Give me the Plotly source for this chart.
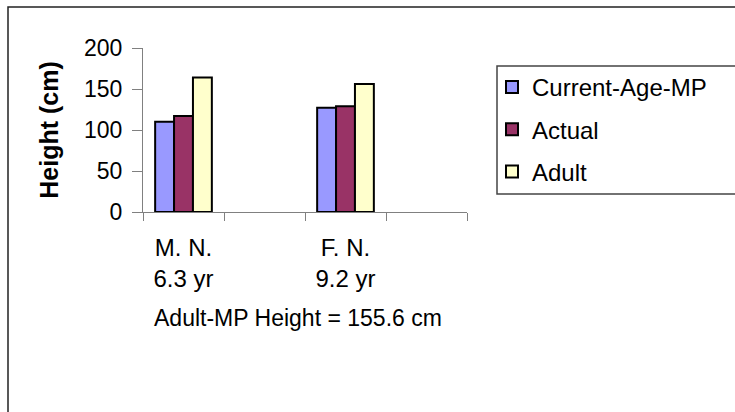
import plotly.graph_objects as go

# Patients (with age) and the two empty slots that pad the category axis
categories = ["M. N.<br>6.3 yr", " ", "F. N.<br>9.2 yr", "  "]

# Heights in cm for each series (None = no bar in that slot)
current_age_mp = [110, None, 127, None]
actual = [117, None, 129, None]
adult = [164, None, 156, None]

series_names = ["Current-Age-MP", "Actual", "Adult"]
series_values = [current_age_mp, actual, adult]
series_colors = ["#9999FF", "#993366", "#FFFFCC"]

y_ticks = [0, 50, 100, 150, 200]
note_text = "Adult-MP Height = 155.6 cm"

W, H = 735, 412
L, R, T, B = 143, 268, 48, 200
PW, PH = W - L - R, H - T - B


def px_x(px):
    return (px - L) / PW


def px_y(py):
    return (H - B - py) / PH


FONT = "Arial, Liberation Sans, sans-serif"

fig = go.Figure()
for i, (name, vals, col) in enumerate(zip(series_names, series_values, series_colors)):
    fig.add_trace(go.Bar(
        x=categories, y=vals, name=name,
        marker=dict(color=col, line=dict(color="#000000", width=2)),
        legendgroup=f"g{i}",
    ))

fig.update_layout(
    width=W, height=H,
    margin=dict(l=L, r=R, t=T, b=B, autoexpand=False),
    paper_bgcolor="white", plot_bgcolor="white",
    barmode="group", bargap=0.3, bargroupgap=0,
    font=dict(family=FONT, color="#000000", size=22),
    showlegend=True,
    legend=dict(
        xref="container", yref="container",
        x=492 / W, y=1 - 65 / H, xanchor="left", yanchor="top",
        bgcolor="rgba(0,0,0,0)", borderwidth=0,
        font=dict(family=FONT, size=24, color="#000000"),
        traceorder="grouped", tracegroupgap=8,
    ),
    xaxis=dict(
        type="category", categoryorder="array", categoryarray=categories,
        range=[-0.5, 3.5], tickson="boundaries",
        showline=True, linecolor="#808080", linewidth=1,
        ticks="outside", ticklen=8, tickcolor="#808080", tickwidth=1,
        showgrid=False, zeroline=False,
        tickfont=dict(family=FONT, size=24),
        ticklabelstandoff=14,
    ),
    yaxis=dict(
        range=[0, 200], tickvals=y_ticks,
        showline=True, linecolor="#808080", linewidth=1,
        ticks="outside", ticklen=10, tickcolor="#808080", tickwidth=1,
        showgrid=False, zeroline=False,
        tickfont=dict(family=FONT, size=23),
        ticklabelstandoff=5,
        title=dict(text="<b>Height (cm)</b>", font=dict(family=FONT, size=25), standoff=18),
    ),
    shapes=[
        # chart frame
        dict(type="rect", xref="paper", yref="paper",
             x0=px_x(8), x1=px_x(W + 20), y0=px_y(7), y1=px_y(H + 20),
             line=dict(color="#222222", width=1.5), fillcolor="rgba(0,0,0,0)", layer="below"),
        # legend frame
        dict(type="rect", xref="paper", yref="paper",
             x0=px_x(497), x1=px_x(W + 20), y0=px_y(66), y1=px_y(194),
             line=dict(color="#444444", width=1.5), fillcolor="rgba(0,0,0,0)", layer="below"),
    ],
    annotations=[
        dict(text=note_text, xref="paper", yref="paper",
             x=px_x(152), y=px_y(318), xanchor="left", yanchor="middle",
             showarrow=False,
             font=dict(family=FONT, size=23)),
    ],
)

fig.write_html("out.html")
